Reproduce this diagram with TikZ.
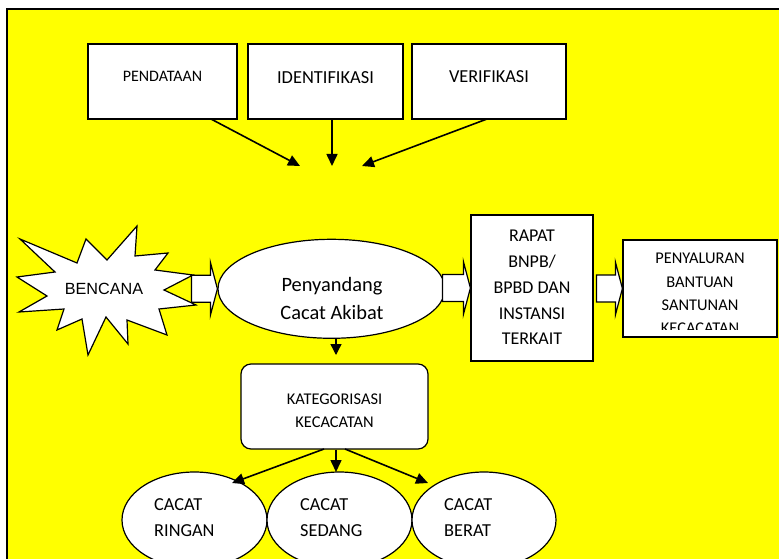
\documentclass[tikz,border=0pt]{standalone}
\usepackage{fontspec}
\setmainfont{Carlito}
\newfontfamily\arialf{Liberation Sans}
\usetikzlibrary{shapes.geometric,arrows.meta}
\definecolor{bgyellow}{RGB}{255,255,0}
\tikzset{
  box/.style={draw, fill=white, line width=1.2pt, rectangle, inner sep=0pt},
  oval/.style={draw, fill=white, line width=1.2pt, ellipse, inner sep=0pt},
  lbl/.style={inner sep=0pt, align=center, text=black},
  arr/.style={line width=1.6pt, -{Triangle[length=12pt,width=11pt]}},
  pics/blockarr/.style={code={
    \draw[fill=white, line width=1.2pt, line join=miter]
      (-#1,-13.5) -- (-7,-13.5) -- (-7,-26.5) -- (0,0) -- (-7,26.5) -- (-7,13.5) -- (-#1,13.5) -- cycle;}}
}
\newcommand\fs[2]{\fontsize{#1}{#2}\selectfont}
\begin{document}
\begin{tikzpicture}[x=1pt,y=-1pt]
\useasboundingbox (0,0) rectangle (779,559);
\clip (0,0) rectangle (779,559);
% frame
\draw[fill=bgyellow, line width=1.2pt] (7,9) rectangle (790,570);

% top boxes
\node[box, minimum width=149pt, minimum height=75pt] (pend) at (162.5,81.5) {};
\node[box, minimum width=155pt, minimum height=75pt] (iden) at (325.5,81.5) {};
\node[box, minimum width=154pt, minimum height=75pt] (veri) at (489,81.5) {};
\node[lbl, font=\fs{16}{20}] (pendt) at (162.5,76) {PENDATAAN};
\node[lbl, font=\fs{18.4}{22}] (ident) at (325.5,77.5) {IDENTIFIKASI};
\node[lbl, font=\fs{18.3}{22}] (verit) at (489,77) {VERIFIKASI};

\coordinate (e1) at (300,166);
\coordinate (e2) at (332,166);
\coordinate (e3) at (362,166);
\draw[arr] (211,119) -- (e1);
\draw[arr] (iden.south -| e2) -- (e2);
\draw[arr] (487,119) -- (e3);

% main ellipse and block arrows
\node[oval, minimum width=227pt, minimum height=99pt] (peny) at (331.5,288.8) {};
\node[box, minimum width=122pt, minimum height=146pt] (rapat) at (532,288) {};
\node[box, minimum width=154pt, minimum height=97pt] (salur) at (700,288.5) {};

\pic at (peny.west) {blockarr=26};
\pic at (rapat.west) {blockarr=28};
\pic at (salur.west) {blockarr=26};

% starburst
\draw[fill=white, line width=1.2pt, line join=miter]
  (20,239) -- (77,263) -- (86,239) -- (107,260) -- (137,226) -- (135,256)
  -- (168,253) -- (155,270) -- (193,275) -- (164,290) -- (196,305) -- (159,309)
  -- (167,335) -- (127,320) -- (128,344) -- (106,317) -- (88,355) -- (82,319)
  -- (57,330) -- (64,309) -- (19,312) -- (47,296) -- (17,277) -- (55,272) -- cycle;
\node[lbl, font={\arialf\fs{16.2}{20}}] (benc) at (104,289) {BENCANA};

\node[lbl, font=\fs{20.4}{28}] (penyt) at (332,298.5) {Penyandang\\Cacat Akibat};
\node[lbl, font=\fs{18}{25.8}] (rapatt) at (532,287.5) {RAPAT\\BNPB/\\BPBD DAN\\INSTANSI\\TERKAIT};
\begin{scope}
\clip (623,240) rectangle (777,329);
\node[lbl, font=\fs{16.4}{23.4}] (salurt) at (700,293.6) {PENYALURAN\\BANTUAN\\SANTUNAN\\KECACATAN};
\end{scope}

% categorisation
\node[box, rounded corners=10pt, minimum width=187pt, minimum height=85pt] (kat) at (334.5,406.5) {};
\node[lbl, font=\fs{16.4}{23}] (katt) at (334.5,410.3) {KATEGORISASI\\KECACATAN};
\coordinate (k0) at (336,355);
\draw[line width=1.4pt, -{Triangle[length=11pt,width=11pt]}] (peny.south -| k0) -- (k0);

\node[oval, minimum width=145pt, minimum height=96pt] (ring) at (194.5,520) {};
\node[oval, minimum width=145pt, minimum height=96pt] (sed) at (339.5,520) {};
\node[oval, minimum width=144pt, minimum height=96pt] (ber) at (484,520) {};

\coordinate (c1) at (232,483);
\coordinate (c2) at (336,472);
\coordinate (c3) at (428,483);
\draw[arr] (324,449) -- (c1);
\draw[arr] (kat.south -| c2) -- (c2);
\draw[arr] (345,449) -- (c3);

\node[lbl, align=left, anchor=west, font=\fs{18.3}{26.5}] (ringt) at (154,517.75) {CACAT\\RINGAN};
\node[lbl, align=left, anchor=west, font=\fs{18.3}{26.5}] (sedt) at (300,517.75) {CACAT\\SEDANG};
\node[lbl, align=left, anchor=west, font=\fs{18.3}{26.5}] (bert) at (444,517.75) {CACAT\\BERAT};
\end{tikzpicture}
\end{document}
